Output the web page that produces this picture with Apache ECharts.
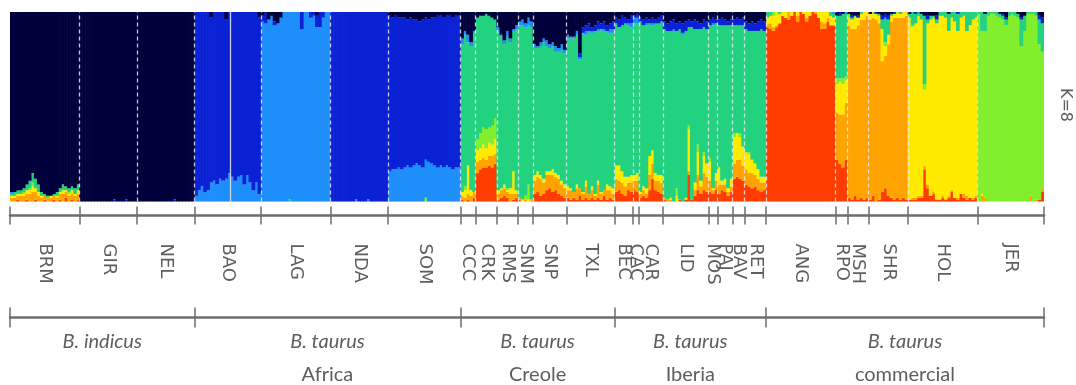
<!DOCTYPE html>
<html>
<head>
<meta charset="utf-8">
<script src="https://cdn.jsdelivr.net/npm/echarts@6/dist/echarts.min.js"></script>
<style>
html,body{margin:0;padding:0;background:#ffffff;}
#chart{width:1076px;height:385px;}
</style>
</head>
<body>
<div id="chart"></div>
<script>
// ---------------- DATA ----------------
// Each row = one individual: ancestry (%) in clusters [red, orange, yellow, lime, teal, lightblue, blue, navy]
const clusterNames = ['K1','K2','K3','K4','K5','K6','K7','K8'];

const populations = ['BRM','GIR','NEL','BAO','LAG','NDA','SOM','CCC','CRK','RMS','SNM','SNP','TXL','BEC','CAC','CAR','LID','MOS','PAJ','BAV','RET','ANG','RPO','MSH','SHR','HOL','JER'];

const groupNames = ['B. indicus','B. taurus','B. taurus','B. taurus','B. taurus'];
const groupSubtitles = ['','Africa','Creole','Iberia','commercial'];
const groupPopCounts = [3,4,6,8,6];

const Q_BRM = [[0,2,1,0,1,1,0,95],[0,2,1,0,2,0,0,95],[1,2,1,0,2,0,0,94],[0,3,1,0,2,0,0,94],[0,3,1,1,2,0,0,93],[1,3,2,0,3,0,0,91],[0,4,2,1,4,0,0,89],[0,5,3,2,5,0,0,85],[1,4,2,0,5,0,0,88],[0,3,2,0,4,0,0,91],[0,2,1,0,2,0,0,95],[1,2,0,0,1,0,0,96],[0,2,0,0,1,0,0,97],[0,2,1,0,0,0,0,97],[1,2,0,0,1,0,0,96],[0,2,1,0,2,0,0,95],[1,3,1,0,2,0,0,93],[0,4,2,0,3,0,0,91],[2,3,1,0,2,0,0,92],[0,3,1,1,2,0,0,93],[1,3,2,0,2,0,0,92],[0,3,1,0,3,0,0,93],[1,3,2,0,3,0,0,91]];
const Q_GIR = [[0,0,0,0,0,0,0,100],[0,0,0,0,0,0,0,100],[0,0,0,0,0,0,0,100],[0,0,0,0,0,0,0,100],[0,0,0,0,0,0,0,100],[0,0,0,0,0,0,0,100],[0,0,0,0,0,0,0,100],[0,0,0,0,0,0,0,100],[0,0,0,0,0,0,0,100],[0,0,0,0,0,0,0,100],[0,0,0,0,0,0,0,100],[0,0,0,0,0,0,1,99],[0,0,0,0,0,0,0,100],[0,0,0,0,0,0,0,100],[0,0,0,0,0,0,0,100],[0,0,0,0,0,0,1,99],[0,0,0,0,0,0,0,100],[0,0,0,0,0,0,0,100],[0,0,0,0,0,0,0,100]];
const Q_NEL = [[0,0,0,0,0,0,0,100],[0,0,0,0,0,0,0,100],[0,0,0,0,0,0,0,100],[0,0,0,0,0,0,0,100],[0,0,0,0,0,0,0,100],[0,0,0,0,0,0,0,100],[0,0,0,0,0,0,0,100],[0,0,0,0,0,0,0,100],[0,0,0,0,0,0,0,100],[0,0,0,0,0,0,0,100],[0,0,0,0,0,0,0,100],[0,0,0,0,0,0,0,100],[0,0,0,0,0,0,1,99],[0,0,0,0,0,0,0,100],[0,0,0,0,0,0,0,100],[0,0,0,0,0,0,0,100],[0,0,0,0,0,0,0,100],[0,0,0,0,0,0,0,100],[0,0,0,0,0,0,0,100]];
const Q_BAO = [[0,0,0,0,0,3,97,0],[0,0,0,0,0,6,94,0],[0,0,0,0,0,8,92,0],[0,0,0,0,0,5,95,0],[0,0,0,0,0,6,94,0],[0,0,0,0,0,10,87,3],[0,0,0,0,0,11,89,0],[0,0,0,0,0,9,91,0],[0,0,0,0,0,12,88,0],[0,0,0,0,0,11,89,0],[0,0,0,0,0,12,84,4],[0,0,0,0,0,15,85,0],[0,0,0,0,0,13,87,0],[0,0,0,0,0,11,89,0],[0,0,0,0,0,13,87,0],[0,0,0,0,0,14,86,0],[0,0,0,0,0,9,91,0],[0,0,0,0,0,14,86,0],[0,0,0,0,0,10,90,0],[0,0,0,0,0,6,94,0],[0,0,0,0,0,10,90,0],[0,0,0,0,0,4,93,3]];
const Q_LAG = [[0,0,0,0,0,95,3,2],[0,0,0,0,0,94,6,0],[0,0,0,0,0,96,0,4],[0,0,0,0,0,98,0,2],[0,0,0,0,0,93,2,5],[0,0,0,0,0,94,0,6],[0,0,0,0,0,97,0,3],[0,0,0,0,0,100,0,0],[0,0,0,0,0,100,0,0],[0,0,0,0,1,99,0,0],[0,0,0,0,0,100,0,0],[0,0,0,0,0,100,0,0],[0,0,0,0,0,100,0,0],[0,0,0,0,0,91,9,0],[0,0,0,0,0,100,0,0],[0,0,0,0,0,100,0,0],[0,0,0,0,0,97,3,0],[0,0,0,0,0,98,2,0],[0,0,0,0,0,92,6,2],[0,0,0,0,0,92,8,0],[0,0,0,0,0,97,3,0],[0,0,0,0,0,100,0,0],[0,0,0,0,0,100,0,0]];
const Q_NDA = [[0,0,0,0,0,0,100,0],[0,0,0,0,0,0,100,0],[0,0,0,0,0,0,100,0],[0,0,0,0,0,0,100,0],[0,0,0,0,0,0,100,0],[0,0,0,0,0,0,100,0],[0,0,0,0,0,0,100,0],[0,0,0,0,0,0,100,0],[0,0,0,0,0,1,99,0],[0,0,0,0,0,0,100,0],[0,0,0,0,0,0,100,0],[0,0,0,0,0,0,100,0],[0,0,0,0,0,1,99,0],[0,0,0,0,0,0,100,0],[0,0,0,0,0,0,100,0],[0,0,0,0,0,0,100,0],[0,0,0,0,0,0,100,0],[0,0,0,0,0,0,100,0],[0,0,0,0,0,0,100,0]];
const Q_SOM = [[0,0,0,0,0,16,82,2],[0,0,0,0,0,17,80,3],[0,0,0,0,0,17,81,2],[0,0,0,0,0,18,79,3],[0,0,0,0,0,17,80,3],[0,0,0,0,0,18,79,3],[0,0,0,0,0,19,77,4],[0,0,0,0,0,18,79,3],[0,0,0,0,0,19,77,4],[0,0,0,0,0,20,76,4],[0,0,0,0,0,19,76,5],[0,0,0,0,0,18,78,4],[0,0,0,2,0,20,75,3],[0,0,0,0,0,21,75,4],[0,0,0,0,0,20,77,3],[0,0,0,0,0,19,78,3],[0,0,0,0,0,18,80,2],[0,0,0,0,0,19,79,2],[0,0,0,0,0,18,79,3],[0,0,0,0,0,19,79,2],[0,0,0,0,0,18,80,2],[0,0,0,0,0,17,80,3],[0,0,0,0,0,18,80,2],[0,0,0,0,0,18,80,2]];
const Q_CCC = [[1,2,2,0,78,3,0,14],[0,2,4,2,80,2,0,10],[1,3,15,0,65,4,0,12],[0,3,3,0,76,2,0,16],[2,3,0,0,84,1,0,10]];
const Q_CRK = [[15,6,6,6,64,0,0,3],[17,5,6,8,62,0,0,2],[18,5,7,9,59,0,0,2],[18,4,6,10,61,0,0,1],[19,5,7,8,59,0,0,2],[18,6,6,10,57,0,0,3],[20,5,8,11,52,0,0,4]];
const Q_RMS = [[1,3,2,0,84,2,0,8],[2,4,1,0,80,1,0,12],[3,4,2,0,74,2,0,15],[2,3,1,1,80,3,0,10],[0,4,3,0,77,2,0,14],[1,3,12,0,74,1,0,9],[2,2,2,0,85,2,0,7]];
const Q_SNM = [[1,1,0,0,91,2,0,5],[0,0,1,0,92,3,0,4],[0,1,0,2,89,2,0,6],[0,0,1,8,84,4,0,3],[0,1,0,0,91,3,0,5]];
const Q_SNP = [[4,7,3,0,67,2,0,17],[5,8,3,0,65,1,0,18],[3,9,2,0,68,2,0,16],[4,6,2,0,72,2,0,14],[6,8,2,0,66,3,0,15],[7,7,2,0,65,2,0,17],[5,9,3,0,65,2,0,16],[6,7,2,0,64,3,0,18],[4,8,2,0,65,2,0,19],[3,6,2,0,69,3,0,17],[2,5,2,0,69,2,0,20]];
const Q_TXL = [[2,4,2,0,78,2,0,12],[1,5,1,0,79,1,0,13],[2,3,0,0,81,1,0,13],[1,6,2,0,79,2,0,10],[3,4,0,0,68,1,2,22],[1,3,1,0,84,0,3,8],[2,6,3,0,77,2,3,7],[1,3,0,0,86,0,4,6],[2,4,2,0,81,1,2,8],[1,2,1,0,86,0,3,7],[2,7,2,0,79,1,4,5],[1,3,1,0,86,0,3,6],[3,3,0,0,84,1,4,5],[1,5,3,0,81,0,3,7],[2,4,2,0,81,2,3,6],[1,3,3,0,82,2,4,5]];
const Q_BEC = [[5,7,7,0,75,0,3,3],[6,5,8,0,73,0,4,4],[4,6,6,0,77,0,5,2],[3,5,5,0,81,0,3,3],[6,4,3,0,80,1,2,4],[5,5,4,0,78,2,4,2]];
const Q_CAC = [[6,5,3,0,80,3,1,2],[5,6,4,0,79,3,2,1]];
const Q_CAR = [[2,2,1,0,90,0,2,3],[3,3,2,0,85,0,3,4],[2,2,3,0,86,1,3,3],[6,8,10,0,70,0,2,4],[12,8,7,0,66,1,3,3],[6,5,4,0,79,0,2,4],[5,6,3,0,80,0,3,3],[4,6,4,0,81,0,3,2]];
const Q_LID = [[1,1,0,0,89,0,4,5],[0,1,0,0,89,0,4,6],[0,1,1,0,88,0,5,5],[0,0,0,0,90,1,5,4],[0,0,3,4,83,0,4,6],[1,0,0,0,90,0,4,5],[0,0,0,0,88,1,5,6],[1,0,1,0,88,0,5,5],[14,2,22,2,52,0,4,4],[1,0,0,0,91,0,3,5],[3,3,4,0,81,0,5,4],[6,8,12,4,61,0,4,5],[4,4,3,0,80,0,3,6],[6,9,9,2,66,0,4,4],[5,8,7,0,71,0,4,5]];
const Q_MOS = [[5,6,10,2,70,0,3,4],[4,2,1,0,86,1,3,3],[6,5,4,0,79,0,2,4]];
const Q_PAJ = [[4,5,9,0,75,0,3,4],[6,3,2,0,82,0,4,3],[5,4,3,0,81,0,3,4],[3,2,2,0,86,0,2,5],[5,3,4,0,81,0,3,4]];
const Q_BAV = [[12,8,14,2,57,0,3,4],[13,9,14,0,57,0,4,3],[12,10,12,2,57,0,3,4],[11,8,10,0,64,0,4,3]];
const Q_RET = [[9,8,9,0,65,0,4,5],[8,7,10,1,64,0,4,6],[7,8,7,0,68,0,5,5],[8,6,6,0,70,0,4,6],[6,6,5,0,73,0,5,5],[5,5,3,0,78,0,5,4],[6,4,3,0,77,0,5,5]];
const Q_ANG = [[92,2,3,0,3,0,0,0],[91,3,4,0,2,0,0,0],[90,2,6,2,0,0,0,0],[92,1,7,0,0,0,0,0],[94,0,5,0,1,0,0,0],[98,0,2,0,0,0,0,0],[97,0,3,0,0,0,0,0],[96,4,0,0,0,0,0,0],[98,0,2,0,0,0,0,0],[100,0,0,0,0,0,0,0],[95,3,2,0,0,0,0,0],[100,0,0,0,0,0,0,0],[99,0,1,0,0,0,0,0],[95,2,3,0,0,0,0,0],[98,0,2,0,0,0,0,0],[100,0,0,0,0,0,0,0],[99,1,0,0,0,0,0,0],[97,0,3,0,0,0,0,0],[91,4,5,0,0,0,0,0],[91,3,6,0,0,0,0,0],[95,2,3,0,0,0,0,0],[93,0,5,0,2,0,0,0],[93,0,4,0,2,1,0,0]];
const Q_RPO = [[22,25,15,3,33,0,0,2],[20,26,17,2,33,0,2,0],[18,28,16,3,34,0,0,1],[22,30,12,2,33,1,0,0]];
const Q_MSH = [[2,91,4,2,0,0,0,1],[1,90,5,0,1,0,1,2],[3,88,6,1,0,0,0,2],[1,92,4,0,0,0,1,2],[2,94,3,0,1,0,0,0],[1,95,4,0,0,0,0,0],[2,96,2,0,0,0,0,0]];
const Q_SHR = [[1,95,3,0,0,0,0,1],[3,94,2,1,0,0,0,0],[0,96,3,0,0,0,1,0],[1,93,4,0,1,0,0,1],[5,69,17,0,5,0,2,2],[7,70,5,2,12,1,2,1],[3,80,5,0,8,0,2,2],[2,93,3,0,1,0,0,1],[1,96,2,0,0,0,1,0],[2,95,3,0,0,0,0,0],[1,96,2,0,1,0,0,0],[2,95,3,0,0,0,0,0],[1,97,2,0,0,0,0,0]];
const Q_HOL = [[1,0,96,0,2,0,0,1],[1,1,90,1,7,0,0,0],[1,1,92,0,5,0,1,0],[2,1,95,0,2,0,0,0],[2,1,93,0,3,0,0,1],[17,2,40,3,36,0,0,2],[7,2,85,0,2,0,2,2],[3,0,93,0,2,0,0,2],[4,1,92,0,1,0,0,2],[1,0,93,0,2,0,2,2],[1,0,97,0,2,0,0,0],[2,1,95,0,2,0,0,0],[1,0,96,0,3,0,0,0],[2,1,87,0,9,0,0,1],[5,1,91,0,3,0,0,0],[2,0,93,0,5,0,0,0],[1,1,88,0,9,0,1,0],[4,0,93,0,3,0,0,0],[2,2,94,0,2,0,0,0],[1,2,87,0,10,0,0,0],[2,0,91,0,7,0,0,0],[1,1,94,0,4,0,0,0],[2,1,94,0,3,0,0,0]];
const Q_JER = [[0,0,0,99,1,0,0,0],[0,3,1,86,10,0,0,0],[0,2,0,88,9,0,0,1],[0,0,0,98,2,0,0,0],[0,0,0,99,1,0,0,0],[0,0,0,99,1,0,0,0],[0,0,0,98,2,0,0,0],[0,0,0,97,2,0,0,1],[0,0,0,96,2,0,1,1],[0,0,0,93,3,0,1,3],[0,0,0,98,2,0,0,0],[0,0,0,99,1,0,0,0],[0,0,0,98,2,0,0,0],[0,0,0,97,2,0,0,1],[0,0,0,82,14,0,1,3],[0,0,0,90,8,0,0,2],[0,0,0,99,1,0,0,0],[0,3,0,96,1,0,0,0],[0,0,0,99,1,0,0,0],[0,1,0,97,2,0,0,0],[1,0,0,82,13,0,2,2],[5,2,0,72,15,0,3,3]];

const popData = [Q_BRM,Q_GIR,Q_NEL,Q_BAO,Q_LAG,Q_NDA,Q_SOM,Q_CCC,Q_CRK,Q_RMS,Q_SNM,Q_SNP,Q_TXL,Q_BEC,Q_CAC,Q_CAR,Q_LID,Q_MOS,Q_PAJ,Q_BAV,Q_RET,Q_ANG,Q_RPO,Q_MSH,Q_SHR,Q_HOL,Q_JER];

// sub-population divider inside BAO (individual index within BAO)
const baoDividerAt = 12;

// ---------------- STYLE ----------------
const clusterColors = ['#FF3C00','#FFA300','#FFEA00','#82EE2C','#22D27F','#1D8EFA','#0A22D4','#00003C'];
const axisGrey = '#6e6e6e';
const textGrey = '#5e5e5e';

// ---------------- BUILD ----------------
const rows = [].concat(...popData);
const N = rows.length;
const popSizes = popData.map(a => a.length);
const bounds = [0];
popSizes.forEach(s => bounds.push(bounds[bounds.length - 1] + s));
const centers = popSizes.map((s, i) => (bounds[i] + bounds[i + 1]) / 2);
const groupBounds = [0];
let pAcc = 0;
groupPopCounts.forEach(g => { pAcc += g; groupBounds.push(bounds[pAcc]); });
const groupCenters = groupPopCounts.map((g, i) => (groupBounds[i] + groupBounds[i + 1]) / 2);

const categories = rows.map((r, i) => String(i));

const barSeries = clusterNames.map((name, k) => ({
  type: 'bar',
  name: name,
  stack: 'q',
  xAxisIndex: 0,
  yAxisIndex: 0,
  barWidth: 3.7,
  barGap: '0%',
  silent: true,
  itemStyle: { color: clusterColors[k], borderWidth: 0 },
  data: rows.map(r => {
    const s = r.reduce((a, b) => a + b, 0);
    return r[k] / s * 100;
  })
}));

const interior = bounds.slice(1, bounds.length - 1);
const dividerSeries = {
  type: 'line',
  xAxisIndex: 1,
  yAxisIndex: 0,
  data: [],
  silent: true,
  z: 5,
  markLine: {
    silent: true,
    symbol: ['none', 'none'],
    label: { show: false },
    animation: false,
    lineStyle: { type: [4, 3], color: 'rgba(232,232,242,0.85)', width: 1.3 },
    data: interior.map(b => ({ xAxis: b })).concat([
      { xAxis: bounds[3] + baoDividerAt, lineStyle: { type: 'solid', color: 'rgba(225,225,240,0.9)', width: 1.3 } }
    ])
  }
};

function popName(v) {
  const j = centers.findIndex(c => Math.abs(c - v) < 1e-6);
  return j >= 0 ? populations[j] : '';
}
function groupLabel(v) {
  const j = groupCenters.findIndex(c => Math.abs(c - v) < 1e-6);
  if (j < 0) return '';
  return groupSubtitles[j] ? '{i|' + groupNames[j] + '}\n{n|' + groupSubtitles[j] + '}' : '{i|' + groupNames[j] + '}';
}

const baseValueAxis = {
  type: 'value', min: 0, max: N, position: 'bottom', gridIndex: 0,
  splitLine: { show: false }
};

const option = {
  animation: false,
  backgroundColor: '#ffffff',
  grid: { left: 10, right: 32, top: 12, bottom: 183, containLabel: false },
  xAxis: [
    { type: 'category', data: categories, show: false, gridIndex: 0 },
    Object.assign({}, baseValueAxis, {
      offset: 14,
      axisLine: { show: true, lineStyle: { color: axisGrey, width: 2.5 } },
      axisTick: { show: true, customValues: bounds, length: 9, lineStyle: { color: axisGrey, width: 1.5 } },
      axisLabel: {
        show: true, customValues: centers, rotate: -90, margin: 28,
        formatter: popName, color: textGrey, fontSize: 18, fontFamily: 'DejaVu Sans'
      }
    }),
    Object.assign({}, baseValueAxis, {
      offset: 14,
      axisLine: { show: false },
      axisTick: { show: true, inside: true, customValues: bounds, length: 9, lineStyle: { color: axisGrey, width: 1.5 } },
      axisLabel: { show: false }
    }),
    Object.assign({}, baseValueAxis, {
      offset: 116,
      axisLine: { show: true, lineStyle: { color: axisGrey, width: 2.5 } },
      axisTick: { show: true, customValues: groupBounds, length: 10, lineStyle: { color: axisGrey, width: 1.5 } },
      axisLabel: {
        show: true, customValues: groupCenters, margin: 8,
        formatter: groupLabel, color: textGrey, fontFamily: 'Lato',
        rich: {
          i: { fontStyle: 'italic', fontSize: 20, lineHeight: 33, color: textGrey, fontFamily: 'Lato' },
          n: { fontSize: 20, lineHeight: 33, color: textGrey, fontFamily: 'Lato' }
        }
      }
    }),
    Object.assign({}, baseValueAxis, {
      offset: 116,
      axisLine: { show: false },
      axisTick: { show: true, inside: true, customValues: groupBounds, length: 10, lineStyle: { color: axisGrey, width: 1.5 } },
      axisLabel: { show: false }
    })
  ],
  yAxis: [{ type: 'value', min: 0, max: 100, show: false, gridIndex: 0 }],
  graphic: [{
    type: 'text', x: 1065, y: 105, rotation: -Math.PI / 2,
    style: { text: 'K=8', fill: textGrey, font: '16px "DejaVu Sans"', align: 'center', verticalAlign: 'middle' }
  }],
  series: barSeries.concat([dividerSeries])
};

const chart = echarts.init(document.getElementById('chart'), null, { renderer: 'canvas' });
chart.setOption(option);
</script>
</body>
</html>
